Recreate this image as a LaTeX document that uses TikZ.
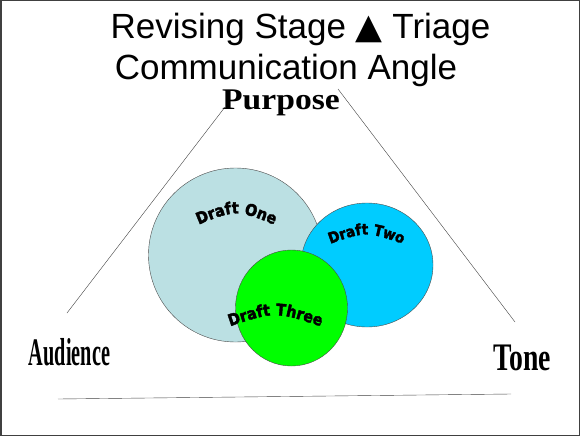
\documentclass[tikz,border=0pt]{standalone}
\usepackage{fontspec}
\setmainfont{Liberation Sans}
\newfontfamily\symb{DejaVu Sans}
\newfontfamily\sommetfont{Liberation Serif}
\newfontfamily\draftfont[FakeBold=2.5]{DejaVu Sans Condensed Bold}
\usetikzlibrary{decorations.text}
\definecolor{bleuclair}{RGB}{187,224,227}
\definecolor{bleuvif}{RGB}{0,204,255}
\definecolor{vert}{RGB}{0,255,0}

\begin{document}
\begin{tikzpicture}[x=1pt,y=-1pt]
\tikzset{titre/.style={anchor=base,inner sep=0,font=\fontsize{35}{36}\selectfont},
  sommet/.style={anchor=base,inner sep=0,font=\sommetfont\bfseries},
  bulle/.style={draw=black!70,thin}}
\useasboundingbox (0,0) rectangle (580,436);
%cadre
\draw[line width=1.5pt,black!75] (0.75,0.75) rectangle (579.25,435.25);
%titre
\node[titre] (titre1) at (300.5,38) {Revising Stage {\symb ▲} Triage};
\node[titre] (titre2) at (286,79) {Communication Angle};
%sommets
\node[sommet,font=\sommetfont\bfseries\fontsize{30}{30}\selectfont] (purpose) at (281,109) {\scalebox{1.12}[1]{Purpose}};
\node[sommet,font=\sommetfont\bfseries\fontsize{39}{40}\selectfont] (audience) at (69.5,365) {\scalebox{0.52}[1]{Audience}};
\node[sommet,font=\sommetfont\bfseries\fontsize{39}{40}\selectfont] (tone) at (522,370) {\scalebox{0.71}[1]{Tone}};
%triangle
\coordinate (hautG) at (225,107);
\coordinate (basG) at (67,313);
\coordinate (hautD) at (338,89);
\coordinate (basD) at (515,322);
\coordinate (baseG) at (58,399);
\coordinate (baseD) at (511,394);
\draw[black!75,thin] (hautG) -- (basG);
\draw[black!75,thin] (hautD) -- (basD);
\draw[black!75,thin] (baseG) -- (baseD);
%fin
%cercles
\draw[bulle,fill=bleuclair] (235.5,255) circle (87);
\draw[bulle,fill=bleuvif] (367,265) ellipse (66 and 62);
\draw[bulle,fill=vert] (291.5,308) ellipse (56 and 58);
%textes courbes
\path[decorate,decoration={text along path,text align=center,
  text={|\draftfont\fontsize{16}{16}\selectfont|Draft One}}]
  (193,227) .. controls (236,209) .. (280,227);
\path[decorate,decoration={text along path,text align=center,
  text={|\draftfont\fontsize{15}{15}\selectfont|Draft Two}}]
  (327,245) .. controls (366,231) .. (406,245);
\path[decorate,decoration={text along path,text align=center,
  text={|\draftfont\fontsize{16}{16}\selectfont|Draft Three}}]
  (225,328) .. controls (275,311) .. (326,328);
\end{tikzpicture}
\end{document}
